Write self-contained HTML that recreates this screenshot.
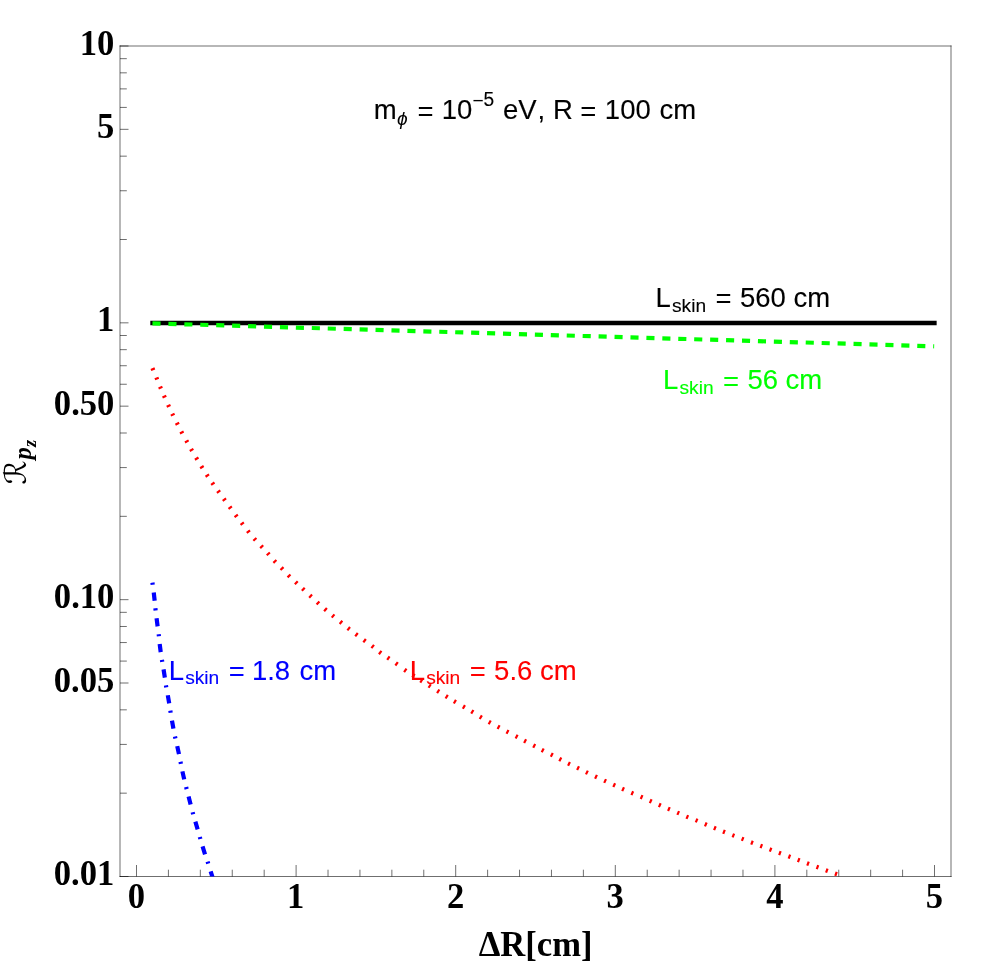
<!DOCTYPE html>
<html><head><meta charset="utf-8"><title>plot</title>
<style>html,body{margin:0;padding:0;background:#fff}svg{display:block;will-change:transform}text{white-space:pre}</style>
</head><body>
<svg width="997" height="966" viewBox="0 0 997 966">
<rect width="997" height="966" fill="#fff"/>
<g stroke="#000" stroke-width="0.57" fill="none">
<line x1="120.0" y1="45.5" x2="120.0" y2="877.0"/>
<line x1="951.0" y1="45.5" x2="951.0" y2="877.0"/>
<line x1="119.5" y1="46.0" x2="951.5" y2="46.0"/>
<line x1="119.5" y1="876.5" x2="951.5" y2="876.5"/>
<line x1="120.0" y1="322.83" x2="128.50" y2="322.83"/>
<line x1="120.0" y1="239.50" x2="126.80" y2="239.50"/>
<line x1="120.0" y1="190.75" x2="126.80" y2="190.75"/>
<line x1="120.0" y1="156.16" x2="126.80" y2="156.16"/>
<line x1="120.0" y1="129.34" x2="128.50" y2="129.34"/>
<line x1="120.0" y1="107.42" x2="126.80" y2="107.42"/>
<line x1="120.0" y1="88.88" x2="126.80" y2="88.88"/>
<line x1="120.0" y1="72.83" x2="126.80" y2="72.83"/>
<line x1="120.0" y1="58.67" x2="126.80" y2="58.67"/>
<line x1="120.0" y1="599.67" x2="128.50" y2="599.67"/>
<line x1="120.0" y1="516.33" x2="126.80" y2="516.33"/>
<line x1="120.0" y1="467.58" x2="126.80" y2="467.58"/>
<line x1="120.0" y1="433.00" x2="126.80" y2="433.00"/>
<line x1="120.0" y1="406.17" x2="128.50" y2="406.17"/>
<line x1="120.0" y1="384.25" x2="126.80" y2="384.25"/>
<line x1="120.0" y1="365.72" x2="126.80" y2="365.72"/>
<line x1="120.0" y1="349.66" x2="126.80" y2="349.66"/>
<line x1="120.0" y1="335.50" x2="126.80" y2="335.50"/>
<line x1="120.0" y1="876.50" x2="128.50" y2="876.50"/>
<line x1="120.0" y1="793.16" x2="126.80" y2="793.16"/>
<line x1="120.0" y1="744.42" x2="126.80" y2="744.42"/>
<line x1="120.0" y1="709.83" x2="126.80" y2="709.83"/>
<line x1="120.0" y1="683.00" x2="128.50" y2="683.00"/>
<line x1="120.0" y1="661.08" x2="126.80" y2="661.08"/>
<line x1="120.0" y1="642.55" x2="126.80" y2="642.55"/>
<line x1="120.0" y1="626.49" x2="126.80" y2="626.49"/>
<line x1="120.0" y1="612.33" x2="126.80" y2="612.33"/>
<line x1="120.0" y1="46.0" x2="128.50" y2="46.0"/>
<line x1="136.50" y1="876.5" x2="136.50" y2="865.00"/>
<line x1="168.42" y1="876.5" x2="168.42" y2="869.70"/>
<line x1="200.34" y1="876.5" x2="200.34" y2="869.70"/>
<line x1="232.26" y1="876.5" x2="232.26" y2="869.70"/>
<line x1="264.18" y1="876.5" x2="264.18" y2="869.70"/>
<line x1="296.10" y1="876.5" x2="296.10" y2="865.00"/>
<line x1="328.02" y1="876.5" x2="328.02" y2="869.70"/>
<line x1="359.94" y1="876.5" x2="359.94" y2="869.70"/>
<line x1="391.86" y1="876.5" x2="391.86" y2="869.70"/>
<line x1="423.78" y1="876.5" x2="423.78" y2="869.70"/>
<line x1="455.70" y1="876.5" x2="455.70" y2="865.00"/>
<line x1="487.62" y1="876.5" x2="487.62" y2="869.70"/>
<line x1="519.54" y1="876.5" x2="519.54" y2="869.70"/>
<line x1="551.46" y1="876.5" x2="551.46" y2="869.70"/>
<line x1="583.38" y1="876.5" x2="583.38" y2="869.70"/>
<line x1="615.30" y1="876.5" x2="615.30" y2="865.00"/>
<line x1="647.22" y1="876.5" x2="647.22" y2="869.70"/>
<line x1="679.14" y1="876.5" x2="679.14" y2="869.70"/>
<line x1="711.06" y1="876.5" x2="711.06" y2="869.70"/>
<line x1="742.98" y1="876.5" x2="742.98" y2="869.70"/>
<line x1="774.90" y1="876.5" x2="774.90" y2="865.00"/>
<line x1="806.82" y1="876.5" x2="806.82" y2="869.70"/>
<line x1="838.74" y1="876.5" x2="838.74" y2="869.70"/>
<line x1="870.66" y1="876.5" x2="870.66" y2="869.70"/>
<line x1="902.58" y1="876.5" x2="902.58" y2="869.70"/>
<line x1="934.50" y1="876.5" x2="934.50" y2="865.00"/>
</g>
<clipPath id="cp"><rect x="120.0" y="46.0" width="831.0" height="830.5"/></clipPath>
<g clip-path="url(#cp)" fill="none">
<line x1="152.46" y1="322.98" x2="934.50" y2="322.98" stroke="#000" stroke-width="4.3" stroke-linecap="square"/>
<line x1="152.46" y1="323.35" x2="934.15" y2="346.29" stroke="#00ff00" stroke-width="4.2" stroke-dasharray="8.1 7.84"/>
<path d="M152.44 368.18L153.30 370.20M156.38 377.48L157.22 379.52M160.08 386.58L160.92 388.62M163.95 395.70L164.85 397.70M168.14 404.80L169.06 406.80M172.22 413.71L173.18 415.69M176.80 422.82L177.80 424.78M181.28 431.53L182.32 433.47M186.26 440.44L187.34 442.36M191.05 448.95L192.15 450.85M196.13 457.66L197.27 459.54M201.32 466.17L202.48 468.03M206.70 474.68L207.90 476.52M212.17 482.80L213.43 484.60M217.95 490.71L219.25 492.49M223.76 498.81L225.04 500.59M229.55 506.81L230.85 508.59M235.54 514.92L236.86 516.68M241.53 522.83L242.87 524.57M247.71 530.74L249.09 532.46M254.17 538.57L255.63 540.23M260.95 545.89L262.45 547.51M267.57 553.08L269.03 554.72M274.15 560.60L275.65 562.20M281.23 567.81L282.77 569.39M288.22 575.13L289.78 576.67M295.50 581.95L297.10 583.45M302.50 588.55L304.10 590.05M309.80 595.35L311.40 596.85M317.18 602.26L318.82 603.74M324.67 608.88L326.33 610.32M332.25 615.30L333.95 616.70M340.15 621.71L341.85 623.09M347.84 628.02L349.56 629.38M355.62 634.04L357.38 635.36M363.71 640.05L365.49 641.35M371.83 645.83L373.57 647.17M379.32 651.94L381.08 653.26M387.49 657.58L389.31 658.82M395.71 663.16L397.49 664.44M404.40 669.77L406.20 671.03M412.58 675.00L414.42 676.20M420.47 680.21L422.33 681.39M428.77 685.42L430.63 686.58M437.27 690.71L439.13 691.89M445.77 696.12L447.63 697.28M453.95 701.14L455.85 702.26M462.95 706.35L464.85 707.45M471.36 711.23L473.24 712.37M479.86 716.63L481.74 717.77M488.74 721.86L490.66 722.94M497.63 726.68L499.57 727.72M506.53 731.39L508.47 732.41M515.63 736.19L517.57 737.21M524.12 740.69L526.08 741.71M533.23 745.29L535.17 746.31M541.72 749.89L543.68 750.91M550.82 754.40L552.78 755.40M559.32 758.94L561.28 759.96M568.01 763.32L569.99 764.28M577.06 767.57L579.04 768.53M585.91 772.02L587.89 772.98M595.00 776.33L597.00 777.27M604.10 780.54L606.10 781.46M613.20 784.64L615.20 785.56M622.10 788.75L624.10 789.65M631.29 792.77L633.31 793.63M640.59 796.66L642.61 797.54M649.70 800.75L651.70 801.65M658.79 804.76L660.81 805.64M667.89 808.67L669.91 809.53M677.19 812.57L679.21 813.43M686.28 816.58L688.32 817.42M695.58 820.09L697.62 820.91M704.79 823.97L706.81 824.83M713.88 827.78L715.92 828.62M722.98 831.50L725.02 832.30M732.32 835.11L734.38 835.89M741.62 838.60L743.68 839.40M750.97 842.31L753.03 843.09M760.27 845.71L762.33 846.49M769.57 849.31L771.63 850.09M778.87 852.82L780.93 853.58M788.37 856.22L790.43 856.98M797.67 859.71L799.73 860.49M806.97 863.22L809.03 863.98M816.47 866.72L818.53 867.48M825.77 870.22L827.83 870.98M834.96 873.53L837.04 874.27" stroke="#ff0000" stroke-width="4.2"/>
<path d="M152.44 582.62L152.70 584.70M153.74 592.53L154.66 600.67M155.38 608.36L155.62 610.44M156.58 618.23L157.62 626.37M158.67 634.16L158.93 636.24M159.68 643.98L160.72 652.12M161.94 659.86L162.26 661.94M163.56 669.45L164.84 677.55M165.93 685.36L166.27 687.44M167.80 695.26L169.20 703.34M170.33 710.66L170.67 712.74M171.97 720.67L173.43 728.73M174.98 736.47L175.42 738.53M177.23 746.09L178.97 754.11M180.49 761.77L180.91 763.83M182.40 771.40L184.20 779.40M186.14 787.08L186.66 789.12M188.57 796.53L190.63 804.47M192.62 812.19L193.18 814.21M195.36 821.56L197.64 829.44M199.80 836.99L200.40 839.01M202.57 846.49L205.03 854.31M207.58 861.70L208.22 863.70M210.66 871.39L213.14 879.21" stroke="#0000ff" stroke-width="4.2"/>
</g>
<g font-family="'Liberation Sans', sans-serif">
<text x="373.79" y="119.45" font-size="27.5" fill="#000"  stroke="#000" stroke-width="0.12">m</text>
<text x="397.0" y="125.4" font-size="19.2" font-style="italic" fill="#000">ϕ</text>
<text x="417.6" y="121.0" font-size="27.5" fill="#000">=</text>
<text x="441.76" y="119.45" font-size="27.5" fill="#000"  transform="matrix(1 0 0 1.035 0 -4.181)" stroke="#000" stroke-width="0.12">10</text>
<text x="472.6" y="106.90" font-size="19.2" fill="#000">−</text>
<text x="483.63" y="106.40" font-size="19.2" fill="#000"  transform="matrix(1 0 0 1.035 0 -3.724)" stroke="#000" stroke-width="0.12">5</text>
<text x="502.88" y="119.45" font-size="27.5" fill="#000"  stroke="#000" stroke-width="0.12">e</text>
<text x="518.38" y="119.45" font-size="27.5" fill="#000"  transform="matrix(1 0 0 1.035 0 -4.181)" stroke="#000" stroke-width="0.12">V</text>
<text x="537.58" y="119.45" font-size="27.5" fill="#000"  stroke="#000" stroke-width="0.12">,</text>
<text x="552.93" y="119.45" font-size="27.5" fill="#000"  transform="matrix(1 0 0 1.035 0 -4.181)" stroke="#000" stroke-width="0.12">R</text>
<text x="580.2" y="121.0" font-size="27.5" fill="#000">=</text>
<text x="604.87" y="119.45" font-size="27.5" fill="#000"  transform="matrix(1 0 0 1.035 0 -4.181)" stroke="#000" stroke-width="0.12">100</text>
<text x="659.59" y="119.45" font-size="27.5" fill="#000"  stroke="#000" stroke-width="0.12">cm</text>
<text x="655.53" y="306.65" font-size="27.5" fill="#000"  transform="matrix(1 0 0 1.035 0 -10.733)" stroke="#000" stroke-width="0.12">L</text>
<text x="671.98" y="311.55" font-size="19.2" fill="#000"  stroke="#000" stroke-width="0.12">skin</text>
<text x="715.5" y="308.2" font-size="27.5" fill="#000">=</text>
<text x="739.90" y="306.65" font-size="27.5" fill="#000"  transform="matrix(1 0 0 1.035 0 -10.733)" stroke="#000" stroke-width="0.12">560</text>
<text x="793.59" y="306.65" font-size="27.5" fill="#000"  stroke="#000" stroke-width="0.12">cm</text>
<text x="663.03" y="388.95" font-size="27.5" fill="#00ff00"  transform="matrix(1 0 0 1.035 0 -13.613)" stroke="#00ff00" stroke-width="0.12">L</text>
<text x="679.48" y="393.85" font-size="19.2" fill="#00ff00"  stroke="#00ff00" stroke-width="0.12">skin</text>
<text x="723.0" y="390.5" font-size="27.5" fill="#00ff00">=</text>
<text x="747.40" y="388.95" font-size="27.5" fill="#00ff00"  transform="matrix(1 0 0 1.035 0 -13.613)" stroke="#00ff00" stroke-width="0.12">56</text>
<text x="785.39" y="388.95" font-size="27.5" fill="#00ff00"  stroke="#00ff00" stroke-width="0.12">cm</text>
<text x="168.73" y="679.55" font-size="27.5" fill="#0000ff"  transform="matrix(1 0 0 1.035 0 -23.784)" stroke="#0000ff" stroke-width="0.12">L</text>
<text x="185.18" y="684.45" font-size="19.2" fill="#0000ff"  stroke="#0000ff" stroke-width="0.12">skin</text>
<text x="228.7" y="681.1" font-size="27.5" fill="#0000ff">=</text>
<text x="251.90" y="679.55" font-size="27.5" fill="#0000ff"  transform="matrix(1 0 0 1.035 0 -23.784)" stroke="#0000ff" stroke-width="0.12">1.8</text>
<text x="299.49" y="679.55" font-size="27.5" fill="#0000ff"  stroke="#0000ff" stroke-width="0.12">cm</text>
<text x="409.73" y="679.55" font-size="27.5" fill="#ff0000"  transform="matrix(1 0 0 1.035 0 -23.784)" stroke="#ff0000" stroke-width="0.12">L</text>
<text x="426.18" y="684.45" font-size="19.2" fill="#ff0000"  stroke="#ff0000" stroke-width="0.12">skin</text>
<text x="469.7" y="681.1" font-size="27.5" fill="#ff0000">=</text>
<text x="494.10" y="679.55" font-size="27.5" fill="#ff0000"  transform="matrix(1 0 0 1.035 0 -23.784)" stroke="#ff0000" stroke-width="0.12">5.6</text>
<text x="539.89" y="679.55" font-size="27.5" fill="#ff0000"  stroke="#ff0000" stroke-width="0.12">cm</text>
</g>
<g font-family="'Liberation Serif', serif" font-weight="bold">
<text transform="matrix(1 0 0 1.045 0 -2.457)" x="79.82" y="54.60" font-size="34.6" fill="#000" >10</text>
<text transform="matrix(1 0 0 1.045 0 -6.207)" x="97.07" y="137.94" font-size="34.6" fill="#000" >5</text>
<text transform="matrix(1 0 0 1.045 0 -14.914)" x="96.99" y="331.43" font-size="34.6" fill="#000" >1</text>
<text transform="matrix(1 0 0 1.045 0 -18.665)" x="53.87" y="414.77" font-size="34.6" fill="#000" >0.50</text>
<text transform="matrix(1 0 0 1.045 0 -27.372)" x="53.87" y="608.27" font-size="34.6" fill="#000" >0.10</text>
<text transform="matrix(1 0 0 1.045 0 -31.122)" x="53.82" y="691.60" font-size="34.6" fill="#000" >0.05</text>
<text transform="matrix(1 0 0 1.045 0 -39.829)" x="53.74" y="885.10" font-size="34.6" fill="#000" >0.01</text>
<text transform="matrix(1 0 0 1.045 0 -40.864)" x="127.85" y="908.10" font-size="34.6" fill="#000" >0</text>
<text transform="matrix(1 0 0 1.045 0 -40.864)" x="286.96" y="908.10" font-size="34.6" fill="#000" >1</text>
<text transform="matrix(1 0 0 1.045 0 -40.864)" x="447.07" y="908.10" font-size="34.6" fill="#000" >2</text>
<text transform="matrix(1 0 0 1.045 0 -40.864)" x="606.59" y="908.10" font-size="34.6" fill="#000" >3</text>
<text transform="matrix(1 0 0 1.045 0 -40.864)" x="766.33" y="908.10" font-size="34.6" fill="#000" >4</text>
<text transform="matrix(1 0 0 1.045 0 -40.864)" x="925.79" y="908.10" font-size="34.6" fill="#000" >5</text>
<text transform="matrix(1 0 0 1.045 0 -43.020)" x="478.70" y="956.00" font-size="34.6" fill="#000" >ΔR[cm]</text>
<text transform="translate(25.5,484.5) rotate(-90)" font-size="30" font-weight="normal" font-family="'Liberation Serif', 'DejaVu Serif', 'DejaVu Sans', serif" fill="#000">ℛ</text>
<text transform="translate(31.0,459.45) rotate(-90)" font-size="24.6" font-style="italic">p</text>
<text transform="translate(36.1,446.98) rotate(-90)" font-size="18.5" font-style="italic">z</text>
</g>
</svg>
</body></html>
